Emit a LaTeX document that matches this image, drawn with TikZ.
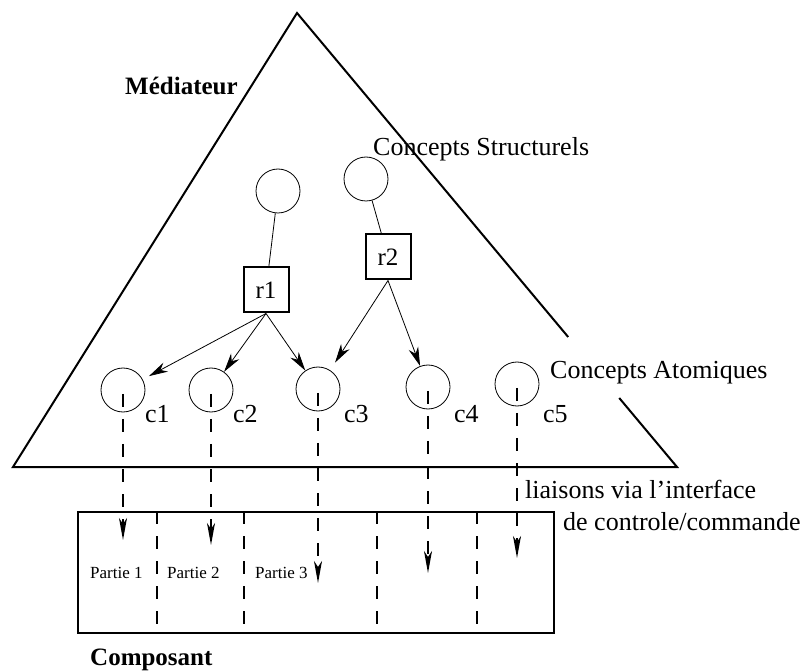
\documentclass[tikz,border=0pt]{standalone}
\usepackage{fontspec}
\setmainfont{Liberation Serif}
\usetikzlibrary{arrows.meta,calc}
\begin{document}
\begin{tikzpicture}[x=1pt,y=-1pt,
  concept/.style={draw,circle,minimum size=44pt,inner sep=0pt,line width=0.8pt},
  relbox/.style={draw,rectangle,minimum size=45pt,inner sep=0pt,line width=2pt,font=\fontsize{25}{28}\selectfont},
  lbl/.style={inner sep=0pt,anchor=base west,font=\fontsize{26}{30}\selectfont},
  blbl/.style={inner sep=0pt,anchor=base west,font=\fontsize{25}{30}\selectfont\bfseries},
  plbl/.style={inner sep=0pt,anchor=base west,font=\fontsize{17}{20}\selectfont},
  rel/.style={line width=0.8pt},
  solidarrow/.style={line width=0.8pt,-{Stealth[length=19pt,width=10pt,inset=6pt]}},
  link/.style={line width=1.8pt,dash pattern=on 13pt off 12pt,-{Stealth[length=22pt,width=8pt,inset=6pt]}},
  divider/.style={line width=1.8pt,dash pattern=on 13pt off 12pt}
]
\useasboundingbox (0,0) rectangle (807,671);

% triangle (mediator)
\coordinate (apex) at (297,13);
\coordinate (bl) at (13,467);
\coordinate (br) at (677,467);
\draw[line width=2pt,line join=miter] ($(apex)!0.7137!(br)$) -- (apex) -- (bl) -- (br) -- ($(apex)!0.848!(br)$);

% labels
\node[blbl] (med) at (125,95) {Médiateur};
\node[lbl] (cs) at (373,156) {Concepts Structurels};
\node[lbl] (ca) at (550,379) {Concepts Atomiques};

% structural concepts
\node[concept] (s1) at (278,191) {};
\node[concept] (s2) at (366,179) {};
\node[relbox] (r1) at (266,290) {r1};
\node[relbox] (r2) at (388,257) {r2};
\draw[rel] (s1) -- (r1);
\draw[rel] (s2) -- (r2);

% atomic concepts
\node[concept] (c1) at (123,390) {};
\node[concept] (c2) at (211,390) {};
\node[concept] (c3) at (318,389) {};
\node[concept] (c4) at (428,387) {};
\node[concept] (c5) at (517,384) {};
\node[lbl] (l1) at (145,423) {c1};
\node[lbl] (l2) at (233,423) {c2};
\node[lbl] (l3) at (344,423) {c3};
\node[lbl] (l4) at (454,423) {c4};
\node[lbl] (l5) at (543,423) {c5};

\draw[solidarrow,shorten >=7pt] (r1.south) -- (c1);
\draw[solidarrow] (r1.south) -- (c2);
\draw[solidarrow] (r1.south) -- (c3);
\draw[solidarrow,shorten >=9pt] (r2.south) -- (c3);
\draw[solidarrow] (r2.south) -- (c4);

% component
\node[draw,rectangle,line width=1.2pt,minimum width=476pt,minimum height=121pt,inner sep=0pt] (comp) at (316,572.5) {};
\foreach \xx in {157,244,377,477}
  \draw[divider] (\xx,0 |- comp.north) -- (\xx,0 |- comp.south);
\node[plbl] (p1) at (90,578) {Partie 1};
\node[plbl] (p2) at (167,578) {Partie 2};
\node[plbl] (p3) at (255,578) {Partie 3};
\node[blbl] (compl) at (90,665) {Composant};

% links
\coordinate (e1) at (123,540);
\coordinate (e2) at (211,545);
\coordinate (e3) at (318,583);
\coordinate (e4) at (428,573);
\coordinate (e5) at (517,558);
\draw[link,shorten <=4pt] (c1.center) -- (e1);
\draw[link,shorten <=4pt] (c2.center) -- (e2);
\draw[link,shorten <=4pt] (c3.center) -- (e3);
\draw[link,shorten <=4pt] (c4.center) -- (e4);
\draw[link,shorten <=4pt] (c5.center) -- (e5);

\node[lbl] (li1) at (525,498) {liaisons via l'interface};
\node[lbl] (li2) at (563,530) {de controle/commande};
\end{tikzpicture}
\end{document}
